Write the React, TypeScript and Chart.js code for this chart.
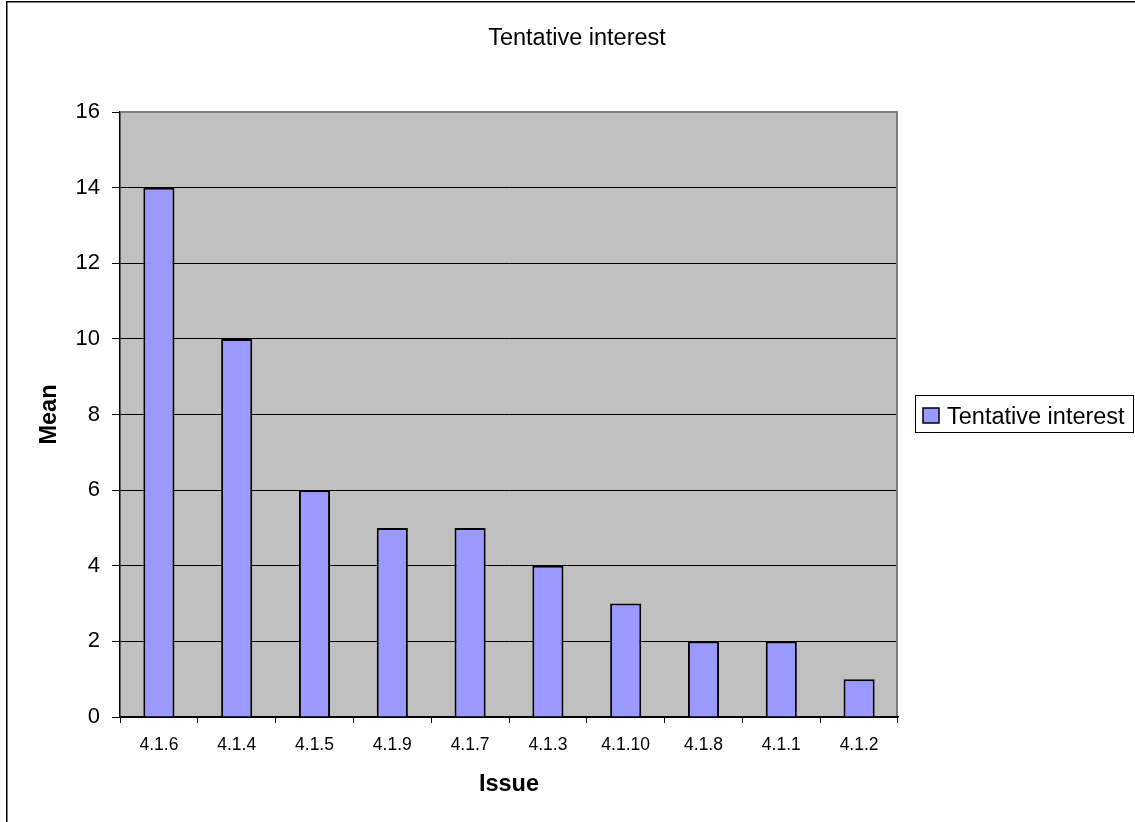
import React, { useEffect, useRef } from "react";
import { Chart, registerables } from "chart.js";

Chart.register(...registerables);

const categories = ["4.1.6", "4.1.4", "4.1.5", "4.1.9", "4.1.7", "4.1.3", "4.1.10", "4.1.8", "4.1.1", "4.1.2"];
const meanValues = [14, 10, 6, 5, 5, 4, 3, 2, 2, 1];
const seriesName = "Tentative interest";
const chartTitle = "Tentative interest";
const xTitle = "Issue";
const yTitle = "Mean";
const yMin = 0;
const yMax = 16;
const yStep = 2;

const FONT = '"Liberation Sans", Arial, sans-serif';
const BAR_FILL = "#9999FF";

const decorPlugin = {
  id: "excelDecor",
  beforeDraw(chart: any) {
    const { ctx, chartArea } = chart;
    const { left, top, right, bottom } = chartArea;
    ctx.save();
    ctx.fillStyle = "#FFFFFF";
    ctx.fillRect(0, 0, chart.width, chart.height);
    ctx.fillStyle = "#C0C0C0";
    ctx.fillRect(left, top, right - left, bottom - top);
    ctx.restore();
  },
  afterDraw(chart: any) {
    const { ctx, chartArea } = chart;
    const { left, top, right, bottom } = chartArea;
    ctx.save();
    ctx.strokeStyle = "#808080";
    ctx.lineWidth = 2;
    ctx.beginPath();
    ctx.moveTo(left + 1, top);
    ctx.lineTo(right - 1, top);
    ctx.lineTo(right - 1, bottom - 1);
    ctx.stroke();

    ctx.strokeStyle = "#000000";
    ctx.lineWidth = 1.5;
    ctx.strokeRect(6.75, 1.75, 2000, 2000);

    ctx.fillStyle = "#000000";
    ctx.font = `23.5px ${FONT}`;
    ctx.textAlign = "center";
    ctx.textBaseline = "alphabetic";
    ctx.fillText(chartTitle, 577, 45);

    ctx.font = `bold 23.5px ${FONT}`;
    ctx.fillText(xTitle, (left + right) / 2, 791);

    ctx.save();
    ctx.translate(56, (top + bottom) / 2);
    ctx.rotate(-Math.PI / 2);
    ctx.textAlign = "center";
    ctx.fillText(yTitle, 0, 0);
    ctx.restore();

    ctx.lineWidth = 1;
    ctx.strokeStyle = "#000000";
    ctx.fillStyle = "#FFFFFF";
    ctx.fillRect(915.5, 395.5, 218, 37);
    ctx.strokeRect(915.5, 395.5, 218, 37);
    ctx.fillStyle = BAR_FILL;
    ctx.fillRect(923, 408, 16, 15);
    ctx.lineWidth = 1.5;
    ctx.strokeRect(923, 408, 16, 15);
    ctx.fillStyle = "#000000";
    ctx.font = `23.5px ${FONT}`;
    ctx.textAlign = "left";
    ctx.fillText(seriesName, 947, 424);
    ctx.restore();
  },
};

export default function App() {
  const canvasRef = useRef<HTMLCanvasElement | null>(null);

  useEffect(() => {
    if (!canvasRef.current) return;
    const chart = new Chart(canvasRef.current, {
      type: "bar",
      data: {
        labels: categories,
        datasets: [
          {
            label: seriesName,
            data: meanValues,
            backgroundColor: BAR_FILL,
            borderColor: "#000000",
            borderWidth: 2,
            barPercentage: 0.4,
            categoryPercentage: 1,
          },
        ],
      },
      options: {
        responsive: false,
        animation: false,
        devicePixelRatio: 1,
        layout: { padding: { left: 50, top: 112, right: 237, bottom: 45 } },
        plugins: {
          legend: { display: false },
          title: { display: false },
          tooltip: { enabled: false },
        },
        scales: {
          x: {
            afterFit: (scale: any) => {
              scale.height = 60;
            },
            grid: {
              offset: true,
              drawOnChartArea: false,
              drawTicks: true,
              tickLength: 6,
              color: "#000000",
              lineWidth: 1,
            },
            border: { display: true, color: "#000000", width: 1.5 },
            ticks: {
              color: "#000000",
              font: { family: FONT, size: 17.5 },
              padding: 12,
              maxRotation: 0,
              autoSkip: false,
            },
          },
          y: {
            min: yMin,
            max: yMax,
            afterFit: (scale: any) => {
              scale.width = 70;
            },
            grid: {
              drawTicks: true,
              tickLength: 8,
              color: (c: any) => (c.tick && c.tick.value === yMax ? "rgba(0,0,0,0)" : "#000000"),
              tickColor: "#000000",
              lineWidth: 1,
            },
            border: { display: true, color: "#000000", width: 1.5 },
            ticks: {
              stepSize: yStep,
              color: "#000000",
              font: { family: FONT, size: 22 },
              padding: 12,
            },
          },
        },
      },
      plugins: [decorPlugin],
    });
    return () => chart.destroy();
  }, []);

  return (
    <div style={{ position: "absolute", left: 0, top: 0, width: 1135, height: 822 }}>
      <canvas ref={canvasRef} width={1135} height={822} style={{ display: "block", width: 1135, height: 822 }} />
    </div>
  );
}
